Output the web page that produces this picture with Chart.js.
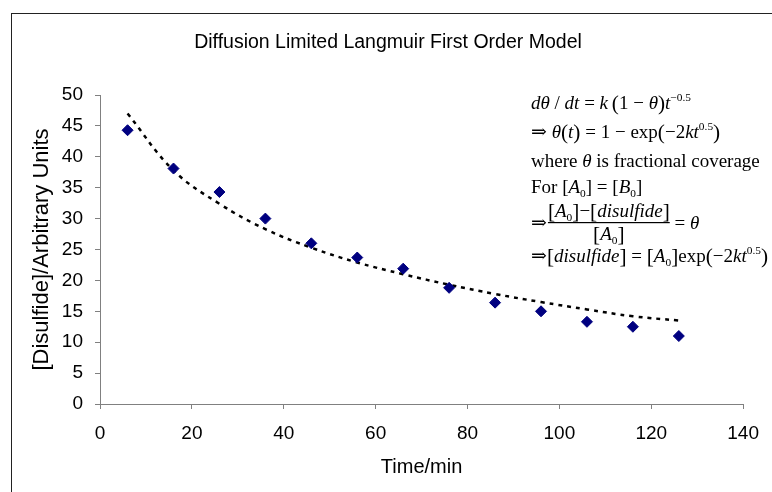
<!DOCTYPE html>
<html>
<head>
<meta charset="utf-8">
<script src="https://cdn.jsdelivr.net/npm/chart.js@4.4.1/dist/chart.umd.min.js"></script>
<style>
  html, body { margin: 0; padding: 0; background: #fff; }
  #wrap { width: 772px; height: 492px; }
</style>
</head>
<body>
<div id="wrap"><canvas id="c" width="772" height="492"></canvas></div>
<script>
// Labels
const chartTitle = 'Diffusion Limited Langmuir First Order Model';
const xAxisTitle = 'Time/min';
const yAxisTitle = '[Disulfide]/Arbitrary Units';

// Measured disulfide signal over time
const timeMin   = [6, 16, 26, 36, 46, 56, 66, 76, 86, 96, 106, 116, 126];
const disulfide = [44.3, 38.1, 34.3, 30.0, 26.0, 23.7, 21.9, 18.8, 16.4, 15.0, 13.3, 12.5, 11.0];

// Fitted diffusion-limited first order model at the same times
const modelFit  = [47.0, 37.8, 32.4, 28.3, 25.3, 22.9, 21.0, 19.3, 17.8, 16.5, 15.3, 14.2, 13.5];

// Axis tick values
const xTicks = [0, 20, 40, 60, 80, 100, 120, 140];
const yTicks = [0, 5, 10, 15, 20, 25, 30, 35, 40, 45, 50];

const SANS = '"Liberation Sans", Arial, sans-serif';
const SERIF = '"Liberation Serif", "Times New Roman", "DejaVu Serif", serif';

// Model equations shown beside the curve: [text, kind]
// kind: r = roman, i = italic, u = superscript, d = subscript, b = tall delimiter
const eqLines = [
  [['d\u03B8', 'i'], [' / ', 'r'], ['dt', 'i'], [' = ', 'r'], ['k', 'i'], ['\u2009', 'r'], ['(', 'b'], ['1 \u2212 ', 'r'],
   ['\u03B8', 'i'], [')', 'b'], ['t', 'i'], ['\u22120.5', 'u']],
  [['\u21D2 ', 'r'], ['\u03B8', 'i'], ['(', 'b'], ['t', 'i'], [')', 'b'], [' = 1 \u2212 exp', 'r'], ['(', 'b'],
   ['\u22122', 'r'], ['kt', 'i'], ['0.5', 'u'], [')', 'b']],
  [['where ', 'r'], ['\u03B8', 'i'], [' is fractional coverage', 'r']],
  [['For [', 'r'], ['A', 'i'], ['0', 'd'], ['] = [', 'r'], ['B', 'i'], ['0', 'd'], [']', 'r']]
];
const eqFracNum = [['[', 'b'], ['A', 'i'], ['0', 'd'], [']', 'b'], ['\u2212', 'r'], ['[', 'b'], ['disulfide', 'i'], [']', 'b']];
const eqFracDen = [['[', 'b'], ['A', 'i'], ['0', 'd'], [']', 'b']];
const eqFracTail = [[' = ', 'r'], ['\u03B8', 'i']];
const eqLast = [['\u21D2', 'r'], ['[', 'b'], ['disulfide', 'i'], [']', 'b'], [' = ', 'r'], ['[', 'b'], ['A', 'i'],
  ['0', 'd'], [']', 'b'], ['exp', 'r'], ['(', 'b'], ['\u22122', 'r'], ['kt', 'i'], ['0.5', 'u'], [')', 'b']];

function runStyle(kind, size) {
  let fs = size, dy = 0;
  const style = kind.includes('i') ? 'italic ' : '';
  if (kind.includes('u')) { fs = size * 0.6; dy = -size * 0.42; }
  if (kind.includes('d')) { fs = size * 0.6; dy = size * 0.2; }
  if (kind.includes('b')) { fs = size * 1.12; dy = size * 0.05; }
  return { font: style + fs.toFixed(1) + 'px ' + SERIF, dy };
}
function runs(ctx, x, y, parts, size, draw = true) {
  for (const [txt, kind] of parts) {
    const s = runStyle(kind, size);
    ctx.font = s.font;
    if (draw) ctx.fillText(txt, x, y + s.dy);
    x += ctx.measureText(txt).width;
  }
  return x;
}

const decor = {
  id: 'decor',
  beforeDraw(chart) {
    const ctx = chart.ctx;
    ctx.save();
    ctx.fillStyle = '#fff';
    ctx.fillRect(0, 0, chart.width, chart.height);
    ctx.strokeStyle = '#222';
    ctx.lineWidth = 1;
    ctx.strokeRect(11.5, 13.5, chart.width + 20, chart.height + 20);
    ctx.restore();
  },
  afterDraw(chart) {
    const ctx = chart.ctx;
    ctx.save();
    ctx.fillStyle = '#000';
    // chart title
    ctx.font = '19.5px ' + SANS;
    ctx.textAlign = 'center';
    ctx.textBaseline = 'middle';
    ctx.fillText(chartTitle, 388, 43);

    // equations
    ctx.textAlign = 'left';
    ctx.textBaseline = 'alphabetic';
    const size = 19, x0 = 531;
    const base = [109, 138, 167, 193];
    eqLines.forEach((ln, i) => runs(ctx, x0, base[i], ln, size));
    // fraction line
    ctx.font = size + 'px ' + SERIF;
    ctx.fillText('\u21D2', x0, 229);
    const fx = x0 + ctx.measureText('\u21D2').width + 1;
    const wNum = runs(ctx, fx, 0, eqFracNum, size, false) - fx;
    runs(ctx, fx, 217, eqFracNum, size);
    const wDen = runs(ctx, 0, 0, eqFracDen, size, false);
    runs(ctx, fx + (wNum - wDen) / 2, 240, eqFracDen, size);
    ctx.fillRect(fx, 222, wNum, 1.2);
    runs(ctx, fx + wNum, 229, eqFracTail, size);
    runs(ctx, x0, 262, eqLast, size);
    ctx.restore();
  }
};

const axisGrid = { drawOnChartArea: false, drawTicks: true, tickLength: 5, color: '#808080', lineWidth: 1 };

new Chart(document.getElementById('c'), {
  type: 'scatter',
  data: {
    datasets: [
      {
        label: 'Disulfide',
        data: timeMin.map((t, i) => ({ x: t, y: disulfide[i] })),
        pointStyle: 'rectRot',
        pointRadius: 5.5,
        backgroundColor: '#000080',
        borderColor: '#000080',
        borderWidth: 1
      },
      {
        type: 'line',
        label: 'Model',
        data: timeMin.map((t, i) => ({ x: t, y: modelFit[i] })),
        borderColor: '#000',
        borderWidth: 2.5,
        borderDash: [4, 5],
        pointRadius: 0,
        tension: 0.4,
        fill: false
      }
    ]
  },
  options: {
    responsive: false,
    animation: false,
    devicePixelRatio: 1,
    layout: { padding: { top: 95, right: 26, bottom: 0, left: 0 } },
    plugins: { legend: { display: false }, tooltip: { enabled: false }, title: { display: false } },
    scales: {
      x: {
        type: 'linear',
        min: xTicks[0],
        max: xTicks[xTicks.length - 1],
        ticks: { stepSize: xTicks[1] - xTicks[0], color: '#000', font: { family: SANS, size: 19 }, padding: 13 },
        grid: axisGrid,
        border: { display: true, color: '#808080', width: 1 },
        title: { display: true, text: xAxisTitle, color: '#000', font: { family: SANS, size: 20 }, padding: { top: 0, bottom: 13 } },
        afterFit(s) { s.height = 88; }
      },
      y: {
        type: 'linear',
        min: yTicks[0],
        max: yTicks[yTicks.length - 1],
        ticks: { stepSize: yTicks[1] - yTicks[0], color: '#000', font: { family: SANS, size: 19 }, padding: 12 },
        grid: axisGrid,
        border: { display: true, color: '#808080', width: 1 },
        title: { display: true, text: yAxisTitle, color: '#000', font: { family: SANS, size: 22 }, padding: { top: 29, bottom: 0 } },
        afterFit(s) { s.width = 100; }
      }
    }
  },
  plugins: [decor]
});
</script>
</body>
</html>
